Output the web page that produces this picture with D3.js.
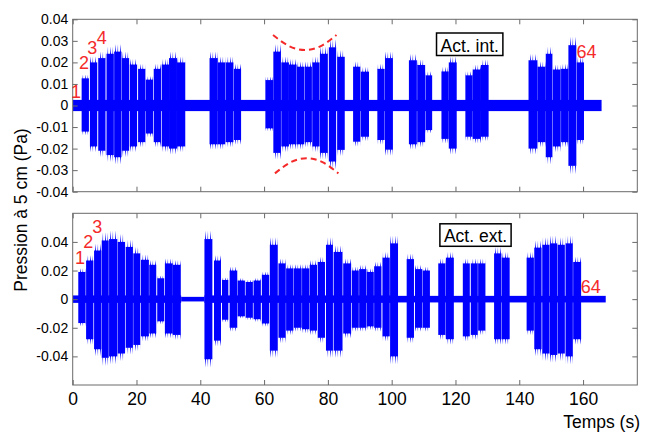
<!DOCTYPE html>
<html>
<head>
<meta charset="utf-8">
<script src="https://cdn.jsdelivr.net/npm/d3@7"></script>
<style>
  body { margin: 0; background: #fff; }
  svg { display: block; font-family: Arial, "Liberation Sans", sans-serif; }
</style>
</head>
<body>
<svg id="svg" width="645" height="433"></svg>
<script>
(function () {
  // axis ticks
  const xTicks = [0, 20, 40, 60, 80, 100, 120, 140, 160];
  const intTicks = [-0.04, -0.03, -0.02, -0.01, 0, 0.01, 0.02, 0.03, 0.04];
  const extTicks = [-0.04, -0.02, 0, 0.02, 0.04];

  // Act. int. bursts : start / end (s), upper / lower level (Pa)
  const intStart = [2.8, 5.4, 8.0, 10.6, 13.0, 15.4, 17.9, 20.5, 22.9, 25.4, 27.9, 30.2, 32.7,
    42.9, 45.5, 47.9, 50.5,
    60.4, 62.9, 65.4, 67.8, 70.3, 72.7, 75.1, 77.5, 80.3, 82.9,
    87.9, 90.3, 95.5, 97.9, 105.4, 108.0, 110.6, 115.6, 117.9, 123.1, 125.4, 128.0,
    142.9, 145.7, 148.3, 150.5, 153.1, 155.4, 158.0];
  const intEnd = [4.9, 7.5, 10.1, 12.7, 15.1, 17.5, 20.0, 22.6, 25.0, 27.5, 30.0, 32.5, 35.1,
    45.3, 47.6, 50.2, 52.6,
    62.7, 65.1, 67.6, 70.0, 72.4, 74.8, 77.2, 79.8, 82.4, 85.1,
    90.0, 92.7, 97.6, 100.2, 107.7, 110.3, 112.5, 117.7, 120.2, 125.2, 127.8, 130.2,
    145.5, 148.1, 150.2, 152.8, 155.2, 157.7, 160.1];
  const intTop = [0.0126, 0.020, 0.022, 0.024, 0.025, 0.022, 0.019, 0.017, 0.012, 0.017, 0.019, 0.022, 0.020,
    0.022, 0.020, 0.020, 0.017,
    0.0118, 0.025, 0.020, 0.019, 0.018, 0.018, 0.020, 0.024, 0.027, 0.0226,
    0.018, 0.0157, 0.017, 0.022, 0.021, 0.0188, 0.014, 0.0158, 0.020, 0.014, 0.0167, 0.0188,
    0.021, 0.018, 0.024, 0.0167, 0.017, 0.028, 0.020];
  const intBot = [-0.0121, -0.019, -0.021, -0.023, -0.024, -0.021, -0.019, -0.017, -0.013, -0.017, -0.019, -0.020, -0.019,
    -0.018, -0.018, -0.017, -0.016,
    -0.0106, -0.022, -0.019, -0.018, -0.018, -0.017, -0.019, -0.022, -0.026, -0.0206,
    -0.0168, -0.0145, -0.016, -0.0205, -0.018, -0.017, -0.0114, -0.0155, -0.020, -0.0145, -0.0155, -0.0145,
    -0.020, -0.017, -0.024, -0.019, -0.017, -0.028, -0.016];
  const intNoiseStart = [0];
  const intNoiseEnd = [165.8];
  const intNoiseAmp = [0.0026];

  // Act. ext. bursts
  const extStart = [1.75, 4.2, 6.7, 9.1, 11.4, 14.1, 16.6, 19.0, 21.4, 24.0, 26.5, 28.9, 31.4,
    41.3, 44.3, 46.8, 49.2, 51.7, 54.2, 56.7, 59.3, 61.8, 64.5, 66.9, 69.3, 71.9, 74.3, 76.8, 79.4, 81.8,
    84.8, 87.5, 89.8, 92.2, 94.5, 97.1, 99.5,
    104.7, 107.3, 109.7, 114.6, 117.0, 122.3, 124.8, 127.1, 132.1, 134.5,
    142.3, 144.7, 147.2, 149.6, 152.0, 154.5, 156.9];
  const extEnd = [3.85, 6.3, 8.8, 11.1, 13.8, 16.2, 18.7, 21.0, 23.7, 26.0, 28.5, 31.2, 33.7,
    43.6, 46.3, 48.6, 51.4, 53.8, 56.3, 58.8, 61.4, 64.1, 66.6, 69.0, 71.6, 74.0, 76.4, 78.9, 81.4, 84.4,
    87.1, 89.5, 91.9, 94.2, 96.6, 99.2, 101.8,
    106.8, 109.4, 111.8, 116.7, 119.3, 124.3, 126.8, 129.2, 134.2, 136.8,
    144.4, 146.8, 149.3, 151.7, 154.1, 156.6, 159.2];
  const extTop = [0.019, 0.027, 0.034, 0.041, 0.042, 0.040, 0.0365, 0.032, 0.0275, 0.024, 0.0146, 0.025, 0.024,
    0.042, 0.027, 0.0134, 0.020, 0.013, 0.012, 0.013, 0.017, 0.038, 0.025, 0.0215, 0.0215, 0.0215, 0.024, 0.026, 0.038, 0.033,
    0.025, 0.020, 0.021, 0.019, 0.023, 0.029, 0.039,
    0.028, 0.021, 0.020, 0.025, 0.029, 0.025, 0.025, 0.025, 0.032, 0.029,
    0.029, 0.036, 0.038, 0.039, 0.038, 0.039, 0.026];
  const extBot = [-0.0167, -0.028, -0.035, -0.041, -0.040, -0.038, -0.034, -0.032, -0.026, -0.024, -0.0155, -0.024, -0.025,
    -0.042, -0.029, -0.0144, -0.020, -0.012, -0.013, -0.014, -0.017, -0.036, -0.027, -0.022, -0.020, -0.021, -0.022, -0.027, -0.036, -0.036,
    -0.024, -0.020, -0.020, -0.019, -0.020, -0.026, -0.040,
    -0.027, -0.020, -0.020, -0.025, -0.028, -0.026, -0.025, -0.022, -0.028, -0.028,
    -0.022, -0.035, -0.038, -0.039, -0.038, -0.040, -0.028];
  const extNoiseStart = [0, 34.0, 41.3, 101.8];
  const extNoiseEnd = [34.0, 41.3, 101.8, 167.1];
  const extNoiseAmp = [0.0026, 0.0016, 0.0026, 0.0023];

  // red annotations (numbers, in data units)
  const intLabels = [['1', 1.0, 0.0064], ['2', 3.55, 0.0197], ['3', 6.1, 0.0267], ['4', 9.1, 0.0313], ['64', 161.1, 0.025]];
  const extLabels = [['1', 2.3, 0.0287], ['2', 4.9, 0.040], ['3', 7.7, 0.0505], ['64', 162.4, 0.0083]];

  // dashed envelopes on the top panel
  const arcUpT = [62.8, 67.8, 72.8, 77.8, 82.7];
  const arcUpV = [0.0327, 0.0276, 0.0258, 0.0276, 0.0327];
  const arcLoT = [63.4, 68.4, 73.3, 78.3, 83.3];
  const arcLoV = [-0.0315, -0.0263, -0.0245, -0.0263, -0.0315];

  const BLUE = '#0000ff';
  const RED = '#f42a2a';
  const AXIS = '#6a6a6a';

  const svg = d3.select('#svg');
  const x = d3.scaleLinear().domain([0, 177]).range([72.7, 637.3]);

  // spiky texture for the ragged edges of the bursts
  const defs = svg.append('defs');
  const pat = defs.append('pattern').attr('id', 'spikes')
    .attr('patternUnits', 'userSpaceOnUse').attr('width', 5).attr('height', 10);
  pat.append('rect').attr('x', 0).attr('width', 1).attr('height', 10).attr('fill', BLUE);
  pat.append('rect').attr('x', 2.4).attr('width', 0.7).attr('height', 10).attr('fill', BLUE);
  [['fadeUp', 1, 0], ['fadeDown', 0, 1]].forEach(([id, o1, o2]) => {
    const gr = defs.append('linearGradient').attr('id', id + 'G').attr('x1', 0).attr('x2', 0).attr('y1', 0).attr('y2', 1);
    gr.append('stop').attr('offset', 0).attr('stop-color', '#fff').attr('stop-opacity', 1 - o1);
    gr.append('stop').attr('offset', 1).attr('stop-color', '#fff').attr('stop-opacity', 1 - o2);
    defs.append('mask').attr('id', id)
      .attr('maskContentUnits', 'objectBoundingBox')
      .append('rect').attr('width', 1).attr('height', 1).attr('fill', `url(#${id}G)`);
  });

  const zip = (s, e, t, b) => s.map((v, i) => ({ t0: v, t1: e[i], top: t[i], bot: b[i] }));
  const fmt = d => d === 0 ? '0' : d.toFixed(2);

  function panel(id, yTop, yBottom, yDomain, yTicks, bursts, noise, labels, showX) {
    const y = d3.scaleLinear().domain(yDomain).range([yBottom, yTop]);
    const g = svg.append('g').attr('id', id);
    const [x0, x1] = x.range();
    const bw = d => x(d.t1) - x(d.t0) + 0.6;

    g.append('clipPath').attr('id', id + 'clip')
      .append('rect').attr('x', x0).attr('y', yTop).attr('width', x1 - x0).attr('height', yBottom - yTop);
    const plot = g.append('g').attr('clip-path', `url(#${id}clip)`);

    // ragged fringe above and below each burst
    plot.selectAll('rect.fup').data(bursts).join('rect')
      .attr('class', 'fup')
      .attr('x', d => x(d.t0)).attr('width', bw)
      .attr('y', d => y(d.top * 1.14)).attr('height', d => y(d.top) - y(d.top * 1.14) + 0.5)
      .attr('fill', 'url(#spikes)').attr('mask', 'url(#fadeUp)');
    plot.selectAll('rect.fdn').data(bursts).join('rect')
      .attr('class', 'fdn')
      .attr('x', d => x(d.t0)).attr('width', bw)
      .attr('y', d => y(d.bot) - 0.5).attr('height', d => y(d.bot * 1.14) - y(d.bot) + 0.5)
      .attr('fill', 'url(#spikes)').attr('mask', 'url(#fadeDown)');

    plot.selectAll('rect.noise').data(noise).join('rect')
      .attr('class', 'noise')
      .attr('x', d => x(d.t0)).attr('width', d => x(d.t1) - x(d.t0))
      .attr('y', d => y(d.a)).attr('height', d => y(-d.a) - y(d.a))
      .attr('fill', BLUE);

    plot.selectAll('rect.burst').data(bursts).join('rect')
      .attr('class', 'burst')
      .attr('x', d => x(d.t0)).attr('width', bw)
      .attr('y', d => y(d.top)).attr('height', d => y(d.bot) - y(d.top))
      .attr('fill', BLUE);

    // axes, ticks inward on all four sides
    const style = sel => {
      sel.select('.domain').remove();
      sel.selectAll('.tick line').attr('stroke', AXIS);
      sel.selectAll('.tick text').attr('fill', '#000').attr('font-family', 'Arial, "Liberation Sans", sans-serif');
    };
    g.append('g').attr('transform', `translate(${x0},0)`)
      .call(d3.axisLeft(y).tickValues(yTicks).tickSize(-5).tickPadding(4.5).tickFormat(fmt))
      .call(style)
      .selectAll('.tick text').attr('font-size', 14);
    g.append('g').attr('transform', `translate(${x1},0)`)
      .call(d3.axisRight(y).tickValues(yTicks).tickSize(-5).tickFormat(''))
      .call(style);
    g.append('g').attr('transform', `translate(0,${yTop})`)
      .call(d3.axisTop(x).tickValues(xTicks).tickSize(-5).tickFormat(''))
      .call(style);
    g.append('g').attr('transform', `translate(0,${yBottom})`)
      .call(d3.axisBottom(x).tickValues(xTicks).tickSize(-5).tickPadding(8).tickFormat(showX ? d3.format('d') : ''))
      .call(style)
      .selectAll('.tick text').attr('font-size', 17.5);

    g.append('rect')
      .attr('x', x0).attr('y', yTop).attr('width', x1 - x0).attr('height', yBottom - yTop)
      .attr('fill', 'none').attr('stroke', AXIS).attr('stroke-width', 1);

    g.selectAll('text.num').data(labels).join('text')
      .attr('class', 'num')
      .attr('x', d => x(d[1])).attr('y', d => y(d[2]))
      .attr('text-anchor', 'middle').attr('dominant-baseline', 'central')
      .attr('font-size', 18).attr('fill', RED)
      .text(d => d[0]);

    return { g, y };
  }

  function legendBox(g, cx, baseline, txt) {
    const t = g.append('text')
      .attr('x', cx).attr('y', baseline)
      .attr('text-anchor', 'middle').attr('font-size', 17.5).attr('fill', '#000')
      .text(txt);
    const b = t.node().getBBox();
    g.insert('rect', () => t.node())
      .attr('x', b.x - 4).attr('y', baseline - 18.5).attr('width', b.width + 8).attr('height', 22.5)
      .attr('fill', '#fff').attr('stroke', '#000').attr('stroke-width', 1.5);
  }

  const intBursts = zip(intStart, intEnd, intTop, intBot);
  const intNoise = intNoiseStart.map((v, i) => ({ t0: v, t1: intNoiseEnd[i], a: intNoiseAmp[i] }));
  const extBursts = zip(extStart, extEnd, extTop, extBot);
  const extNoise = extNoiseStart.map((v, i) => ({ t0: v, t1: extNoiseEnd[i], a: extNoiseAmp[i] }));

  const top = panel('pInt', 19.3, 191.7, [-0.04, 0.04], intTicks, intBursts, intNoise, intLabels, false);
  const bot = panel('pExt', 213.3, 385, [-0.06, 0.06], extTicks, extBursts, extNoise, extLabels, true);

  // dashed envelopes
  const line = d3.line().curve(d3.curveNatural).x(d => x(d[0])).y(d => top.y(d[1]));
  [[arcUpT, arcUpV], [arcLoT, arcLoV]].forEach(([ts, vs]) => {
    top.g.append('path')
      .attr('d', line(ts.map((t, i) => [t, vs[i]])))
      .attr('fill', 'none').attr('stroke', RED).attr('stroke-width', 2)
      .attr('stroke-dasharray', '6,4');
  });

  legendBox(top.g, 469.7, 51.5, 'Act. int.');
  legendBox(bot.g, 475.5, 242.3, 'Act. ext.');

  svg.append('text')
    .attr('transform', 'translate(26.5,210) rotate(-90)')
    .attr('text-anchor', 'middle').attr('font-size', 17.5).attr('fill', '#000')
    .text('Pression à 5 cm (Pa)');

  svg.append('text')
    .attr('x', 640).attr('y', 428)
    .attr('text-anchor', 'end').attr('font-size', 17.5).attr('fill', '#000')
    .text('Temps (s)');
})();
</script>
</body>
</html>
